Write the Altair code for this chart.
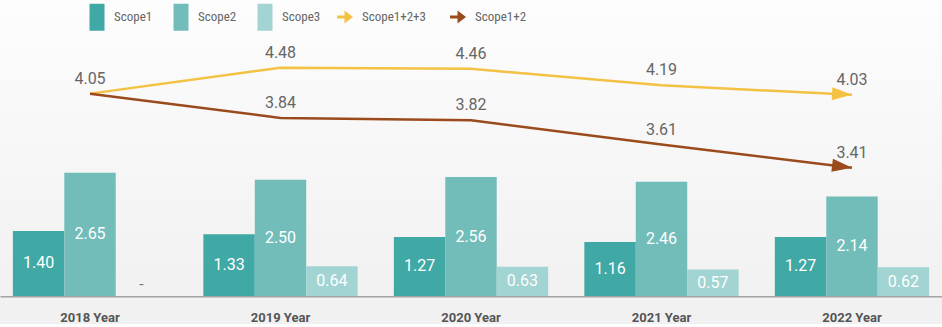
import math
import altair as alt
import pandas as pd

# ---------------- data ----------------
years = ["2018 Year", "2019 Year", "2020 Year", "2021 Year", "2022 Year"]
scope1 = [1.40, 1.33, 1.27, 1.16, 1.27]
scope2 = [2.65, 2.50, 2.56, 2.46, 2.14]
scope3 = [None, 0.64, 0.63, 0.57, 0.62]
total_123 = [4.05, 4.48, 4.46, 4.19, 4.03]
total_12 = [4.05, 3.84, 3.82, 3.61, 3.41]
# the shared 2018 start point is labelled once only
show_label_123 = [True, True, True, True, True]
show_label_12 = [False, True, True, True, True]

bar_series = ["Scope1", "Scope2", "Scope3"]
line_series = ["Scope1+2+3", "Scope1+2"]
bar_colors = ["#40a8a5", "#72bdba", "#a1d4d2"]
line_colors = ["#f4c242", "#9b4a1c"]

# ---------------- layout / styling ----------------
W, H = 942, 296
PAD_IN, PAD_OUT = 0.19, 0.0675
bar_domain = [0, 6.37]
dom_123 = [0.70, 5.60]
dom_12 = [2.30, 4.86]
NUM_FONT = "Roboto"
LEG_FONT = "Roboto Condensed, Liberation Sans Narrow, DejaVu Sans Condensed, Roboto"

bars = pd.DataFrame(
    [{"year": y, "series": s, "value": v}
     for s, vals in zip(bar_series, [scope1, scope2, scope3])
     for y, v in zip(years, vals)]
)
bars["label"] = bars["value"].map(lambda v: "-" if v is None or pd.isna(v) else f"{v:.2f}")

lines = pd.DataFrame({"year": years, "t123": total_123, "t12": total_12})
lines["s123"] = line_series[0]
lines["s12"] = line_series[1]
lines["l123"] = [f"{v:.2f}" if s else "" for v, s in zip(total_123, show_label_123)]
lines["l12"] = [f"{v:.2f}" if s else "" for v, s in zip(total_12, show_label_12)]

# arrow-head angle from the last segment, through the same scale geometry
step = W / (len(years) - PAD_IN + 2 * PAD_OUT)
def seg_angle(vals, dom):
    ppu = H / (dom[1] - dom[0])
    dy = (vals[-2] - vals[-1]) * ppu
    return math.degrees(math.atan2(dy, step))
ang_123 = seg_angle(total_123, dom_123)
ang_12 = seg_angle(total_12, dom_12)

RECT_PATH = "M-0.75,-1.35H0.75V1.35H-0.75Z"
ARROW_PATH = "M-0.8,-0.15L-0.05,-0.15L-0.05,-0.65L0.8,0L-0.05,0.65L-0.05,0.15L-0.8,0.15Z"
HEAD_PATH = "M-4,-1.3L0,0L-4,1.3Z"

leg_common = dict(orient="none", direction="horizontal", title=None, padding=0,
                  symbolSize=400, labelOffset=7,
                  labelFont=LEG_FONT, labelFontSize=13, labelColor="#666666",
                  symbolStrokeWidth=0, symbolOpacity=1)
bar_legend = alt.Legend(legendX=87, legendY=7, symbolType=RECT_PATH, columnPadding=18,
                        **leg_common)
line_legend = alt.Legend(legendX=335, legendY=7, symbolType=ARROW_PATH, columnPadding=22,
                         **leg_common)

bar_color = alt.Color("series:N", scale=alt.Scale(domain=bar_series, range=bar_colors),
                      legend=bar_legend)

x_axis = alt.Axis(title=None, labelAngle=0, ticks=False, grid=False,
                  domainColor="#a3a3a3", domainWidth=2, labelPadding=15,
                  labelFont=NUM_FONT, labelFontWeight="bold", labelFontSize=13,
                  labelColor="#555555")
x_enc = alt.X("year:N", sort=years, title=None,
              scale=alt.Scale(domain=years, paddingInner=PAD_IN, paddingOuter=PAD_OUT),
              axis=x_axis)
xoff = alt.XOffset("series:N", scale=alt.Scale(domain=bar_series, paddingInner=0, paddingOuter=0))

# background gradient
bg = alt.Chart(pd.DataFrame({"k": [0]})).mark_rect(
    color=alt.LinearGradient(gradient="linear", x1=0, x2=0, y1=0, y2=1,
                             stops=[alt.GradientStop(color="#fdfdfd", offset=0),
                                    alt.GradientStop(color="#f1f1f1", offset=1)])
).encode(x=alt.value(0), x2=alt.value(W), y=alt.value(0), y2=alt.value(H))

bar_y_scale = alt.Scale(domain=bar_domain, nice=False, zero=True)

bar_layer = alt.Chart(bars).mark_bar(stroke=None).encode(
    x=x_enc, xOffset=xoff, y=alt.Y("value:Q", scale=bar_y_scale, axis=None), color=bar_color
)

bar_text = alt.Chart(bars).transform_filter("datum.value != null").transform_calculate(
    mid="datum.value / 2"
).mark_text(font=NUM_FONT, fontSize=16, color="white", baseline="middle").encode(
    x=x_enc, xOffset=xoff,
    y=alt.Y("mid:Q", scale=bar_y_scale, axis=None),
    text="label:N",
)

dash_text = alt.Chart(bars).transform_filter("datum.value == null").transform_calculate(
    zero="0"
).mark_text(font=NUM_FONT, fontSize=16, color="#777777", baseline="middle", dy=-11).encode(
    x=x_enc, xOffset=xoff,
    y=alt.Y("zero:Q", scale=bar_y_scale, axis=None),
    text="label:N",
)

line_fill_scale = alt.Scale(domain=line_series, range=line_colors)

def line_layers(vcol, scol, lcol, dom, ang, col):
    yenc = alt.Y(f"{vcol}:Q", scale=alt.Scale(domain=dom, nice=False, zero=False), axis=None)
    ln = alt.Chart(lines).mark_line(strokeWidth=2.5, color=col).encode(x=x_enc, y=yenc)
    lab = alt.Chart(lines).mark_text(font=NUM_FONT, fontSize=16, color="#666666",
                                     baseline="middle", dy=-15).encode(
        x=x_enc, y=yenc, text=f"{lcol}:N"
    )
    head = alt.Chart(lines).transform_filter(f"datum.year == '{years[-1]}'").mark_point(
        shape=HEAD_PATH, filled=True, size=100, angle=ang, opacity=1, strokeWidth=0
    ).encode(
        x=x_enc, y=yenc, fill=alt.Fill(f"{scol}:N", scale=line_fill_scale, legend=line_legend)
    )
    return [ln, lab, head]

layers = [bg, bar_layer, bar_text, dash_text] + \
    line_layers("t123", "s123", "l123", dom_123, ang_123, line_colors[0]) + \
    line_layers("t12", "s12", "l12", dom_12, ang_12, line_colors[1])

chart = alt.layer(*layers).resolve_scale(y="independent").properties(
    width=W, height=H, padding={"left": 0, "right": 0, "top": 0, "bottom": 0},
    background="#f1f1f1",
).configure_view(stroke=None)

chart.save("out.html", embed_options={"renderer": "svg", "actions": False})
